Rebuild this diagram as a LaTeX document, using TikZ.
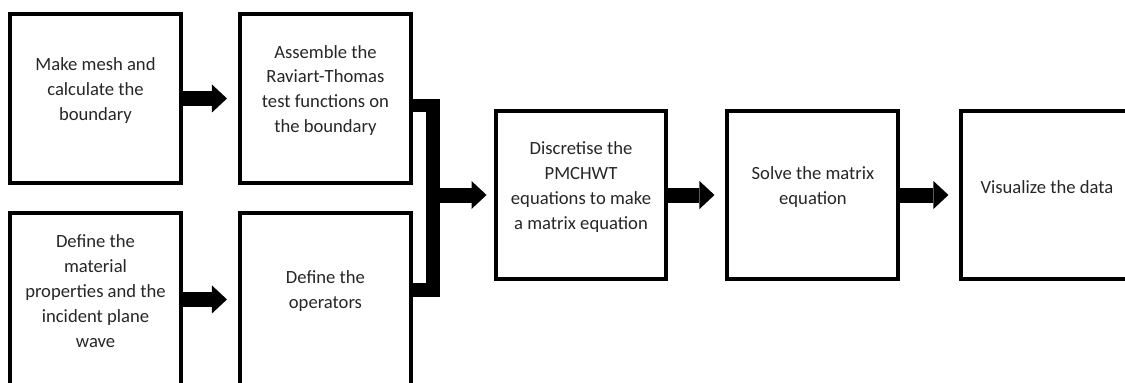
\documentclass[tikz,border=0pt]{standalone}
\usepackage{fontspec}
\setmainfont{Carlito}
\usetikzlibrary{positioning,arrows.meta}

\begin{document}
\begin{tikzpicture}[x=0.02cm, y=-0.02cm,
  stepbox/.style={rectangle, draw=black, line width=0.08cm, minimum width=3.42cm, minimum height=3.38cm, label={[steptext]center:#1}},
  steptext/.style={align=center, text=black!85, font=\fontsize{10.6pt}{14.2pt}\selectfont, yshift=0.16cm},
  flow/.style={line width=0.3cm, -{Triangle[width=0.56cm,length=0.3cm,line width=0pt]}, shorten >=0.22cm},
  bracket/.style={line width=0.28cm, line join=miter},
]
\useasboundingbox (0,0) rectangle (1125,382);
\clip (0,0) rectangle (1125,382);

\node(mesh) [stepbox={Make mesh and\\calculate the\\boundary}] at (95.5,98.5) {};
\node(rt) [stepbox={Assemble the\\Raviart-Thomas\\test functions on\\the boundary}, right=1.1cm of mesh] {};
\node(material) [stepbox={Define the\\material\\properties and the\\incident plane\\wave}, minimum height=3.46cm, below=0.52cm of mesh] {};
\node(ops) [stepbox={Define the\\operators}, minimum height=3.46cm, right=1.1cm of material] {};

\node(disc) [stepbox={Discretise the\\PMCHWT\\equations to make\\a matrix equation}] at (581,195) {};
\node(solve) [stepbox={Solve the matrix\\equation}, right=1.14cm of disc] {};
\node(vis) [stepbox={Visualize the data}, right=1.18cm of solve] {};

\coordinate (join) at (432.5,195);
\draw[bracket] ([yshift=-0.14cm]rt.east) -| (join) |- ([yshift=0.18cm]ops.east);

\draw[flow] (mesh) -- (rt);
\draw[flow] (material) -- (ops);
\draw[flow, shorten >=0.14cm] (join) -- (disc);
\draw[flow] (disc) -- (solve);
\draw[flow] (solve) -- (vis);

\end{tikzpicture}
\end{document}
